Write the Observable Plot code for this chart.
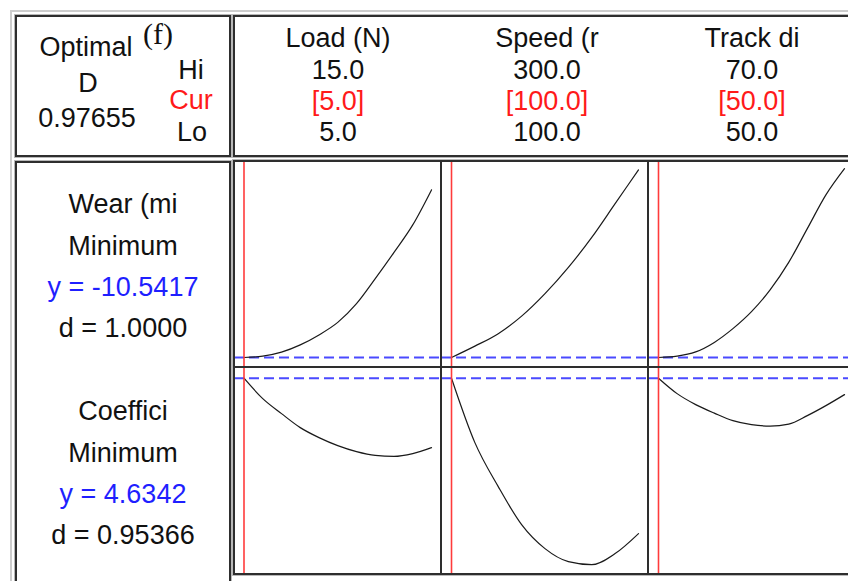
<!DOCTYPE html>
<html>
<head>
<meta charset="utf-8">
<script src="https://cdn.jsdelivr.net/npm/d3@7"></script>
<script src="https://cdn.jsdelivr.net/npm/@observablehq/plot@0.6"></script>
<style>
  html, body { margin: 0; padding: 0; background: #fff; width: 848px; height: 581px; overflow: hidden; }
  #root { position: relative; width: 848px; height: 581px; overflow: hidden; }
  .panel { position: absolute; overflow: visible; }
  .panel svg { display: block; background: #fff; max-width: none !important; }
  #overlay { position: absolute; left: 0; top: 0; pointer-events: none; }
</style>
</head>
<body>
<div id="root"></div>
<script>
// ---------------- data ----------------
const optimalD = "0.97655";
const factorNames = ["Load (N)", "Speed (r", "Track di"];
const factorHi = ["15.0", "300.0", "70.0"];
const factorCur = ["[5.0]", "[100.0]", "[50.0]"];
const factorLo = ["5.0", "100.0", "50.0"];
const factorLoVal = [5, 100, 50];
const factorHiVal = [15, 300, 70];
const factorCurVal = [5, 100, 50];

const responseNames = ["Wear (mi", "Coeffici"];
const responseGoals = ["Minimum", "Minimum"];
const responseY = [-10.5417, 4.6342];
const responseYText = ["y = -10.5417", "y = 4.6342"];
const responseDText = ["d = 1.0000", "d = 0.95366"];

// Load (N) levels and responses
const loadX = [5, 6, 7, 8, 9, 10, 11, 12, 13, 14, 15];
const wearLoad = [-10.54, -10.0, -8.4, -5.5, -1.5, 3.5, 11.0, 21.0, 31.5, 42.5, 56.5];
const coefLoad = [4.634, 4.43, 4.28, 4.14, 4.04, 3.96, 3.90, 3.862, 3.852, 3.88, 3.94];

// Speed levels and responses
const speedX = [100, 125, 150, 175, 200, 225, 250, 275, 300];
const wearSpeed = [-10.54, -6.0, -1.0, 6.0, 15.0, 25.5, 37.5, 51.0, 64.5];
const coefSpeed = [4.634, 3.99, 3.55, 3.17, 2.93, 2.80, 2.77, 2.88, 3.08];

// Track distance levels and responses
const trackX = [50, 52, 54, 56, 58, 60, 62, 64, 66, 68, 70];
const wearTrack = [-10.54, -10.0, -8.3, -4.5, 1.0, 7.8, 16.5, 27.5, 41.0, 54.5, 65.0];
const coefTrack = [4.634, 4.48, 4.37, 4.285, 4.21, 4.17, 4.155, 4.175, 4.26, 4.36, 4.47];

// ---------------- layout ----------------
const root = document.getElementById("root");
const FONT = "'Liberation Sans', Arial, sans-serif";

const colLeft = [234, 441, 648];
const colWidth = [207, 207, 207];
const colPxLo = [9.5, 10, 10];
const colPxHi = [197, 197, 196];
const rowTop = [161, 367];
const rowHeight = [206, 207];
const rowYDomain = [[-14.5417, 67.8583], [2.6712, 4.7412]];

const xs = [loadX, speedX, trackX];
const ys = [[wearLoad, wearSpeed, wearTrack], [coefLoad, coefSpeed, coefTrack]];

function xDomain(lo, hi, width, pxLo, pxHi) {
  const k = (hi - lo) / (pxHi - pxLo);
  return [lo - pxLo * k, lo + (width - pxLo) * k];
}

for (let r = 0; r < 2; r++) {
  for (let c = 0; c < 3; c++) {
    const data = xs[c].map((x, i) => ({x, y: ys[r][c][i]}));
    const chart = Plot.plot({
      width: colWidth[c],
      height: rowHeight[r],
      margin: 0,
      style: {maxWidth: "none", overflow: "visible"},
      x: {domain: xDomain(factorLoVal[c], factorHiVal[c], colWidth[c], colPxLo[c], colPxHi[c]), axis: null},
      y: {domain: rowYDomain[r], axis: null},
      marks: [
        Plot.ruleY([responseY[r]], {stroke: "#4a4aff", strokeWidth: 2, strokeDasharray: "10,5"}),
        Plot.line(data, {x: "x", y: "y", curve: "monotone-x", stroke: "#1a1a1a", strokeWidth: 1.2}),
        Plot.ruleX([factorCurVal[c]], {stroke: "#ff3b3b", strokeWidth: 1.6})
      ]
    });
    const div = document.createElement("div");
    div.className = "panel";
    div.style.left = colLeft[c] + "px";
    div.style.top = rowTop[r] + "px";
    div.style.width = colWidth[c] + "px";
    div.style.height = rowHeight[r] + "px";
    div.appendChild(chart);
    root.appendChild(div);
  }
}

// ---------------- overlay: frames and text ----------------
const svg = d3.select(root).append("svg")
  .attr("id", "overlay")
  .attr("width", 848).attr("height", 581);

// light outer frame
svg.append("line").attr("x1", 10).attr("x2", 860).attr("y1", 11).attr("y2", 11)
  .attr("stroke", "#cdcdcd").attr("stroke-width", 2);
svg.append("line").attr("x1", 11).attr("x2", 11).attr("y1", 10).attr("y2", 600)
  .attr("stroke", "#cdcdcd").attr("stroke-width", 2);

const frame = "#2e2e2e";
function box(x, y, w, h) {
  svg.append("rect").attr("x", x - 1.5).attr("y", y - 1.5).attr("width", w + 3).attr("height", h + 3)
    .attr("fill", "none").attr("stroke", "#b8b8b8").attr("stroke-width", 1);
  svg.append("rect").attr("x", x).attr("y", y).attr("width", w).attr("height", h)
    .attr("fill", "none").attr("stroke", frame).attr("stroke-width", 2);
}
box(16, 16, 214, 140);      // optimal box
box(234, 16, 640, 140);     // factor header
box(16, 162, 214, 460);     // response labels
box(234, 161, 640, 413);    // plot grid
// dividers
[441, 648].forEach(x => svg.append("line").attr("x1", x).attr("x2", x).attr("y1", 161).attr("y2", 574)
  .attr("stroke", frame).attr("stroke-width", 2));
svg.append("line").attr("x1", 234).attr("x2", 874).attr("y1", 367).attr("y2", 367)
  .attr("stroke", frame).attr("stroke-width", 2);

function txt(x, y, s, color = "#111", size = 27, family = FONT, anchor = "middle") {
  svg.append("text").attr("x", x).attr("y", y).attr("text-anchor", anchor)
    .attr("font-family", family).attr("font-size", size).attr("fill", color).text(s);
}

// optimal box
txt(86, 56, "Optimal");
txt(88, 92, "D");
txt(87, 127, optimalD);
txt(191, 79, "Hi");
txt(191, 109, "Cur", "#ff1a1a");
txt(192, 141, "Lo");
txt(158, 44, "(f)", "#111", 30, "'Liberation Serif', 'Times New Roman', serif");

// factor header
const colCenter = [338, 547, 752];
const headerBase = [47, 79, 110, 141];
for (let c = 0; c < 3; c++) {
  txt(colCenter[c], headerBase[0], factorNames[c]);
  txt(colCenter[c], headerBase[1], factorHi[c]);
  txt(colCenter[c], headerBase[2], factorCur[c], "#ff1a1a");
  txt(colCenter[c], headerBase[3], factorLo[c]);
}

// response labels
const labelTop = [213, 420];
for (let r = 0; r < 2; r++) {
  const b = labelTop[r];
  txt(123, b, responseNames[r]);
  txt(123, b + 41.5, responseGoals[r]);
  txt(123, b + 83, responseYText[r], "#1f1fff");
  txt(123, b + 124, responseDText[r]);
}
</script>
</body>
</html>
